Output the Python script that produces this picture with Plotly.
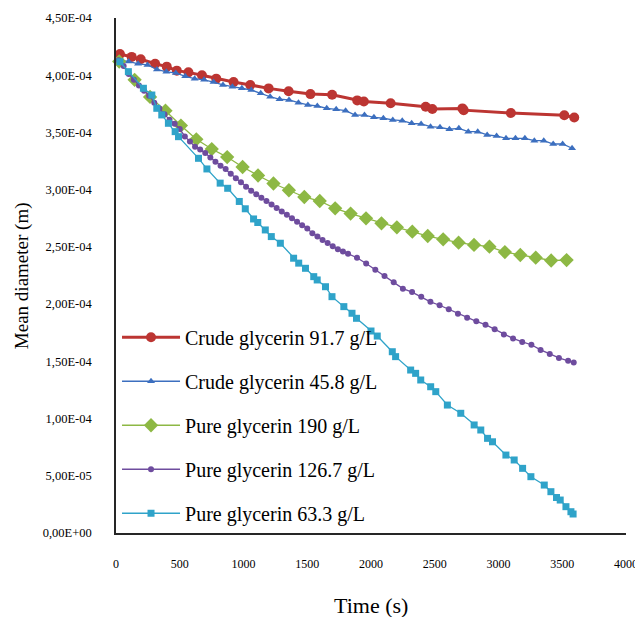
import plotly.graph_objects as go

# ---------------- data ----------------
red_t = [31, 123, 194, 307, 398, 477, 568, 674, 786, 922, 1053, 1197, 1354, 1525, 1695,
         1892, 1944, 2154, 2429, 2481, 2717, 2727, 3097, 3516, 3594]
red_y = [4.185, 4.16, 4.14, 4.10, 4.075, 4.04, 4.025, 4.00, 3.97, 3.94, 3.915, 3.885, 3.86,
         3.835, 3.83, 3.78, 3.77, 3.755, 3.725, 3.705, 3.71, 3.695, 3.67, 3.65, 3.63]

blue_t = [25, 99, 173, 247, 321, 395, 469, 543, 617, 691, 765, 839, 913, 987, 1061, 1135,
          1209, 1283, 1357, 1431, 1505, 1579, 1653, 1727, 1801, 1875, 1949, 2023, 2097, 2171,
          2245, 2319, 2393, 2467, 2541, 2615, 2689, 2763, 2837, 2911, 2985, 3059, 3133, 3207,
          3281, 3355, 3429, 3503, 3577]
blue_y = [4.13, 4.12, 4.10, 4.09, 4.05, 4.03, 4.02, 3.99, 3.97, 3.96, 3.94, 3.915, 3.90,
          3.886, 3.871, 3.842, 3.812, 3.79, 3.784, 3.76, 3.74, 3.731, 3.711, 3.702, 3.69,
          3.652, 3.652, 3.632, 3.624, 3.609, 3.603, 3.58, 3.574, 3.55, 3.545, 3.528, 3.536,
          3.507, 3.507, 3.478, 3.469, 3.449, 3.449, 3.449, 3.428, 3.428, 3.399, 3.399, 3.362]

green_t = [25, 146, 267, 388, 509, 630, 751, 872, 993, 1114, 1235, 1356, 1477, 1598, 1719,
           1840, 1961, 2082, 2203, 2324, 2445, 2566, 2687, 2808, 2929, 3050, 3171, 3292,
           3413, 3534]
green_y = [4.12, 3.96, 3.81, 3.69, 3.56, 3.44, 3.355, 3.285, 3.198, 3.124, 3.054, 2.995,
           2.936, 2.901, 2.837, 2.791, 2.750, 2.706, 2.671, 2.633, 2.595, 2.566, 2.537,
           2.517, 2.502, 2.455, 2.429, 2.406, 2.381, 2.385]

purple_t = [20, 60, 100, 140, 180, 220, 260, 300, 340, 380, 420, 460, 500, 540, 580, 620,
            660, 700, 740, 780, 820, 860, 900, 940, 980, 1020, 1060, 1100, 1140, 1180, 1220,
            1260, 1300, 1340, 1380, 1420, 1460, 1500, 1540, 1580, 1620, 1660, 1700, 1740,
            1780, 1820, 1890, 1962, 2034, 2106, 2178, 2250, 2322, 2394, 2466, 2538, 2610,
            2682, 2754, 2826, 2898, 2970, 3042, 3114, 3186, 3258, 3330, 3402, 3474, 3546, 3590]
purple_y = [4.13, 4.08, 4.01, 3.96, 3.91, 3.865, 3.82, 3.76, 3.71, 3.66, 3.61, 3.575, 3.53,
            3.465, 3.42, 3.376, 3.35, 3.32, 3.28, 3.245, 3.21, 3.18, 3.14, 3.10, 3.065, 3.025,
            2.99, 2.96, 2.93, 2.90, 2.87, 2.84, 2.81, 2.78, 2.75, 2.72, 2.69, 2.66, 2.62, 2.59,
            2.56, 2.535, 2.505, 2.48, 2.46, 2.44, 2.405, 2.355, 2.30, 2.245, 2.19, 2.135,
            2.105, 2.065, 2.02, 1.99, 1.955, 1.915, 1.88, 1.85, 1.82, 1.78, 1.735, 1.70, 1.67,
            1.645, 1.60, 1.565, 1.53, 1.505, 1.49]

cyan_t = [31, 97, 215, 281, 320, 359, 411, 464, 490, 647, 713, 817, 876, 967, 1014, 1079,
          1112, 1171, 1218, 1289, 1393, 1433, 1486, 1551, 1578, 1643, 1694, 1787, 1851, 1886,
          2000, 2049, 2167, 2193, 2311, 2350, 2390, 2468, 2508, 2599, 2704, 2809, 2861, 2914,
          2953, 3058, 3123, 3189, 3254, 3359, 3411, 3455, 3484, 3529, 3568, 3585]
cyan_y = [4.118, 4.031, 3.886, 3.827, 3.711, 3.653, 3.580, 3.507, 3.463, 3.274, 3.181, 3.057,
          3.012, 2.897, 2.833, 2.744, 2.713, 2.648, 2.590, 2.532, 2.401, 2.358, 2.313, 2.240,
          2.211, 2.152, 2.065, 1.978, 1.920, 1.876, 1.765, 1.721, 1.584, 1.541, 1.424, 1.395,
          1.337, 1.278, 1.235, 1.118, 1.046, 0.944, 0.900, 0.827, 0.797, 0.681, 0.638, 0.565,
          0.492, 0.419, 0.361, 0.310, 0.288, 0.230, 0.186, 0.166]

SCALE = 1e-4  # values above are in units of 1e-4 m

y_tickvals = [0, 0.5, 1.0, 1.5, 2.0, 2.5, 3.0, 3.5, 4.0, 4.5]
y_ticktext = ["0,00E+00", "5,00E-05", "1,00E-04", "1,50E-04", "2,00E-04",
              "2,50E-04", "3,00E-04", "3,50E-04", "4,00E-04", "4,50E-04"]
x_tickvals = [0, 500, 1000, 1500, 2000, 2500, 3000, 3500, 4000]
x_ticktext = ["0", "500", "1000", "1500", "2000", "2500", "3000", "3500", "4000"]

series = [
    ("Crude glycerin 91.7 g/L", red_t, red_y, "#BC3532", 3, "circle", 10),
    ("Crude glycerin 45.8 g/L", blue_t, blue_y, "#3C6FBF", 1.3, "triangle-up", 7),
    ("Pure glycerin 190 g/L", green_t, green_y, "#8DB844", 1.3, "diamond", 11),
    ("Pure glycerin 126.7 g/L", purple_t, purple_y, "#6E4C9E", 1.3, "circle", 6),
    ("Pure glycerin 63.3 g/L", cyan_t, cyan_y, "#2FA3C9", 1.3, "square", 7),
]

FONT = "Liberation Serif, Times New Roman, serif"

fig = go.Figure()
for i, (name, t, y, col, lw, sym, ms) in enumerate(series):
    fig.add_trace(go.Scatter(
        x=t, y=[v * SCALE for v in y], name=name, mode="lines+markers",
        line=dict(color=col, width=lw),
        marker=dict(symbol=sym, size=ms, color=col),
        legendgroup=f"g{i}", cliponaxis=False,
    ))

fig.update_layout(
    width=635, height=617,
    margin=dict(l=116, r=9, t=18, b=84, autoexpand=False),
    paper_bgcolor="white", plot_bgcolor="white",
    font=dict(family=FONT, color="black"),
    showlegend=True,
    legend=dict(
        x=0.002, y=0.418, xanchor="left", yanchor="top",
        font=dict(family=FONT, size=20, color="black"),
        bgcolor="rgba(0,0,0,0)", traceorder="grouped", tracegroupgap=15,
        itemwidth=58,
    ),
    xaxis=dict(
        range=[0, 4000], showgrid=False, zeroline=False, automargin=False,
        showline=True, linecolor="#262626", linewidth=1.5,
        tickmode="array", tickvals=x_tickvals, ticktext=x_ticktext,
        tickfont=dict(family=FONT, size=12, color="black"),
        ticks="", ticklabelstandoff=19, ticklabeloverflow="allow",
    ),
    yaxis=dict(
        range=[0, 4.5e-4], showgrid=False, zeroline=False, automargin=False,
        showline=True, linecolor="#262626", linewidth=1.5,
        tickmode="array", tickvals=[v * SCALE for v in y_tickvals], ticktext=y_ticktext,
        tickfont=dict(family=FONT, size=12.5, color="black"),
        ticks="", ticklabelstandoff=20, ticklabeloverflow="allow",
    ),
    annotations=[
        dict(text="Time (s)", xref="paper", yref="paper", x=0.5, y=-0.14,
             xanchor="center", yanchor="middle", showarrow=False,
             font=dict(family=FONT, size=22, color="black")),
        dict(text="Mean diameter (m)", xref="paper", yref="paper", x=-0.185, y=0.5,
             xanchor="center", yanchor="middle", showarrow=False, textangle=-90,
             font=dict(family=FONT, size=19, color="black")),
    ],
)

fig.write_html(
    "out.html",
    config={"displayModeBar": False},
    post_script="document.body.style.margin='0';"
                "document.documentElement.style.overflow='hidden';",
)
